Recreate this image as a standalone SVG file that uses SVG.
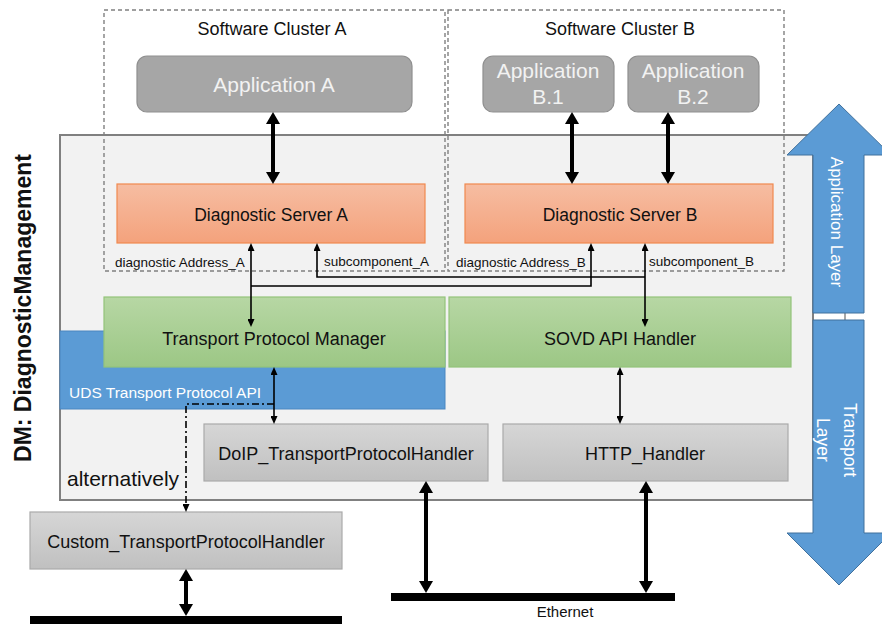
<svg xmlns="http://www.w3.org/2000/svg" width="882" height="624" viewBox="0 0 882 624">
<style>
text{font-family:"Liberation Sans",Arial,sans-serif;fill:#111}
.app rect{fill:#a6a6a6;stroke:#8f8f8f;stroke-width:1.2}
.app text{fill:#f2f2f2;font-size:21px;text-anchor:middle}
.ds rect{fill:url(#gOr);stroke:#f0894f;stroke-width:1.2}
.ds text{font-size:17.5px;text-anchor:middle}
.gr rect{fill:url(#gGr);stroke:#93c47a;stroke-width:1.2}
.gr text{font-size:18px;text-anchor:middle}
.gy rect{fill:url(#gGy);stroke:#aaaaaa;stroke-width:1.2}
.gy text{font-size:18px;text-anchor:middle}
.cl{fill:none;stroke:#808080;stroke-width:1.4;stroke-dasharray:4 3}
.lbl{font-size:13.5px}
.thick{stroke:#000;stroke-width:4;fill:none;marker-start:url(#ahT);marker-end:url(#ahT)}
.thin{stroke:#000;stroke-width:1.6;fill:none}
.bar{fill:#000}
.blue{fill:#5b9bd5;stroke:#41719c;stroke-width:1}
.wt{fill:#ffffff}
</style>
<defs>
<linearGradient id="gOr" x1="0" y1="0" x2="0" y2="1"><stop offset="0" stop-color="#f6bda2"/><stop offset="1" stop-color="#f4a27c"/></linearGradient>
<linearGradient id="gGr" x1="0" y1="0" x2="0" y2="1"><stop offset="0" stop-color="#b7d7a4"/><stop offset="1" stop-color="#9cc785"/></linearGradient>
<linearGradient id="gGy" x1="0" y1="0" x2="0" y2="1"><stop offset="0" stop-color="#d6d6d6"/><stop offset="1" stop-color="#c0c0c0"/></linearGradient>
<marker id="ahT" markerUnits="userSpaceOnUse" viewBox="0 0 12 14" refX="1" refY="7" markerWidth="12" markerHeight="14" orient="auto-start-reverse"><path d="M0,0 L12,7 L0,14 Z" fill="#000"/></marker>
<marker id="ahS" markerUnits="userSpaceOnUse" viewBox="0 0 8 7" refX="1" refY="3.5" markerWidth="8" markerHeight="7" orient="auto-start-reverse"><path d="M0,0 L8,3.5 L0,7 Z" fill="#000"/></marker>
</defs>

<g id="dm-box">
<rect x="60" y="135" width="753" height="365" fill="#f2f2f2" stroke="#808080" stroke-width="2"/>
<text transform="translate(31,308) rotate(-90)" font-size="23" font-weight="bold" text-anchor="middle">DM: DiagnosticManagement</text>
</g>

<g id="uds-api">
<rect x="60" y="331" width="385" height="78" fill="#5b9bd5" stroke="#4a86c0" stroke-width="1"/>
<text x="69" y="398" font-size="15.5" class="wt">UDS Transport Protocol API</text>
</g>

<g id="cluster-a">
<rect class="cl" x="104" y="10" width="341" height="261"/>
<text x="272" y="35" font-size="18" text-anchor="middle">Software Cluster A</text>
</g>
<g id="cluster-b">
<rect class="cl" x="448" y="10" width="336" height="261"/>
<text x="620" y="35" font-size="18" text-anchor="middle">Software Cluster B</text>
</g>

<g id="app-a" class="app">
<rect x="137" y="56" width="275" height="56" rx="10"/>
<text x="274" y="92">Application A</text>
</g>
<g id="app-b1" class="app">
<rect x="483" y="56" width="131" height="56" rx="10"/>
<text x="548" y="78">Application</text>
<text x="548" y="104">B.1</text>
</g>
<g id="app-b2" class="app">
<rect x="628" y="56" width="131" height="56" rx="10"/>
<text x="693" y="78">Application</text>
<text x="693" y="104">B.2</text>
</g>

<g id="ds-a" class="ds">
<rect x="117" y="184" width="308" height="59"/>
<text x="271" y="221">Diagnostic Server A</text>
</g>
<g id="ds-b" class="ds">
<rect x="465" y="184" width="308" height="59"/>
<text x="620" y="221">Diagnostic Server B</text>
</g>

<g id="labels">
<text class="lbl" x="115" y="267">diagnostic Address_A</text>
<text class="lbl" x="324" y="266">subcomponent_A</text>
<text class="lbl" x="456" y="267">diagnostic Address_B</text>
<text class="lbl" x="649" y="266">subcomponent_B</text>
</g>

<g id="tpm" class="gr">
<rect x="104" y="297" width="341" height="70"/>
<text x="274" y="345">Transport Protocol Manager</text>
</g>
<g id="sovd" class="gr">
<rect x="449" y="297" width="342" height="70"/>
<text x="620" y="345">SOVD API Handler</text>
</g>

<g id="doip" class="gy">
<rect x="204" y="424" width="284" height="57"/>
<text x="346" y="460">DoIP_TransportProtocolHandler</text>
</g>
<g id="http" class="gy">
<rect x="503" y="424" width="285" height="57"/>
<text x="645" y="460">HTTP_Handler</text>
</g>
<g id="custom" class="gy">
<rect x="30" y="512" width="312" height="57"/>
<text x="186" y="548">Custom_TransportProtocolHandler</text>
</g>

<text id="alt-label" x="67" y="486" font-size="21">alternatively</text>

<g id="buses">
<rect class="bar" x="30" y="616" width="312" height="8"/>
<rect class="bar" x="391" y="593" width="284" height="8"/>
<text x="565" y="617" font-size="15" text-anchor="middle">Ethernet</text>
</g>

<g id="connectors">
<line class="thick" x1="273" y1="123" x2="273" y2="173"/>
<line class="thick" x1="572" y1="123" x2="572" y2="173"/>
<line class="thick" x1="668" y1="123" x2="668" y2="173"/>
<line class="thick" x1="186" y1="580" x2="186" y2="605"/>
<line class="thick" x1="426" y1="492" x2="426" y2="582"/>
<line class="thick" x1="646" y1="492" x2="646" y2="582"/>
<line class="thin" x1="251" y1="250" x2="251" y2="320" marker-start="url(#ahS)" marker-end="url(#ahS)"/>
<line class="thin" x1="645" y1="250" x2="645" y2="320" marker-start="url(#ahS)" marker-end="url(#ahS)"/>
<path class="thin" d="M645,277 L317,277 L317,250" marker-end="url(#ahS)"/>
<path class="thin" d="M251,286 L591,286 L591,250" marker-end="url(#ahS)"/>
<line class="thin" x1="274" y1="374" x2="274" y2="417" marker-start="url(#ahS)" marker-end="url(#ahS)"/>
<line class="thin" x1="620" y1="374" x2="620" y2="417" marker-start="url(#ahS)" marker-end="url(#ahS)"/>
<path class="thin" d="M274,404 L186,404 L186,505" stroke-dasharray="7 3 2 3" marker-end="url(#ahS)"/>
</g>

<g id="layer-arrows">
<line x1="845" y1="313" x2="845" y2="320" stroke="#8a8a8a" stroke-width="1.5"/>
<path class="blue" d="M813,313 L813,155 L787,155 L839,104 L891,155 L864,155 L864,313 Z"/>
<text transform="translate(831,222) rotate(90)" font-size="17" text-anchor="middle" class="wt">Application Layer</text>
<path class="blue" d="M813,320 L864,320 L864,533 L891,533 L839,585 L787,533 L813,533 Z"/>
<text transform="translate(844,440) rotate(90)" font-size="17.5" text-anchor="middle" class="wt">Transport</text>
<text transform="translate(817,440) rotate(90)" font-size="17.5" text-anchor="middle" class="wt">Layer</text>
</g>
</svg>
